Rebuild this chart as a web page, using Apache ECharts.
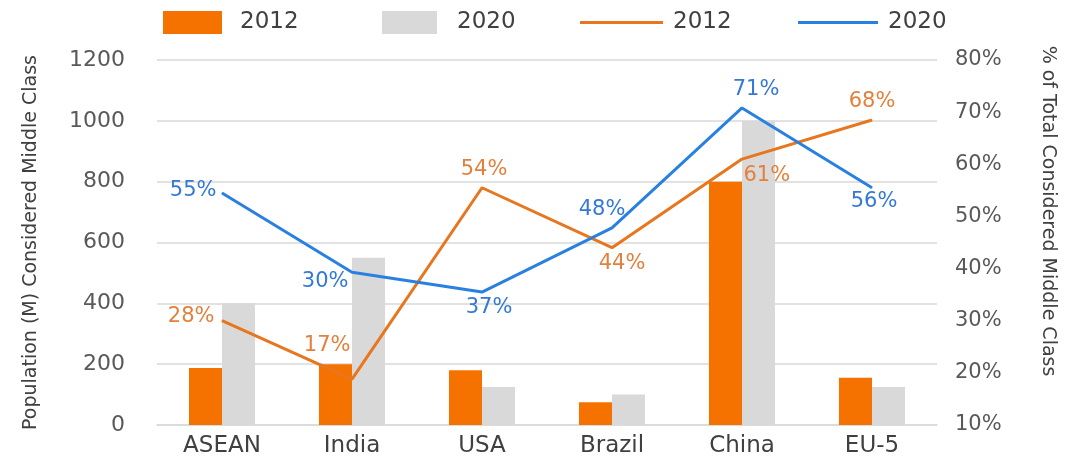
<!DOCTYPE html>
<html>
<head>
<meta charset="utf-8">
<script src="https://cdn.jsdelivr.net/npm/echarts@6/dist/echarts.min.js"></script>
<style>
  html, body { margin: 0; padding: 0; background: #fff; }
  #main { width: 1084px; height: 460px; }
</style>
</head>
<body>
<div id="main"></div>
<script>
// data
const regions = ['ASEAN', 'India', 'USA', 'Brazil', 'China', 'EU-5']
const pop2012 = [187, 200, 180, 75, 800, 155]
const pop2020 = [400, 550, 125, 100, 1000, 125]
// line points (where the lines sit) and the label text printed next to them
const share2012 = [30, 18.8, 55.5, 44, 61, 68.5]
const share2020 = [54.5, 39.3, 35.5, 47.8, 70.8, 55.5]
const share2012Text = ['28%', '17%', '54%', '44%', '61%', '68%']
const share2020Text = ['55%', '30%', '37%', '48%', '71%', '56%']
const leftTicks = ['0', '200', '400', '600', '800', '1000', '1200']
const rightTicks = ['10%', '20%', '30%', '40%', '50%', '60%', '70%', '80%']

// label placement (style only)
const place2012 = [
  { position: 'left', offset: [-2, -4] },
  { position: 'left', offset: [4, -34] },
  { position: 'top', offset: [2, -2] },
  { position: 'bottom', offset: [10, 0] },
  { position: 'right', offset: [-4, 16] },
  { position: 'top', offset: [0, -2] }
]
const place2020 = [
  { position: 'left', offset: [0, -2] },
  { position: 'left', offset: [2, 9] },
  { position: 'bottom', offset: [7, 0] },
  { position: 'top', offset: [-10, -2] },
  { position: 'top', offset: [14, -2] },
  { position: 'bottom', offset: [2, -2] }
]

const FONT = 'DejaVu Sans'
const ORANGE_BAR = '#F57200'
const GREY_BAR = '#D9D9D9'
const ORANGE_LINE = '#E8761E'
const BLUE_LINE = '#2A80E0'

function lineData(values, places) {
  return values.map((v, i) => ({ value: v, label: places[i] }))
}

const legendNames = { bar2012: '2012', bar2020: '2020', line2012: '2012', line2020: '2020' }
const lineIcon = 'path://M0,0 L80,0 L80,3 L0,3 Z'

function legendItem(name, left, icon, w, h, gap) {
  return {
    data: [{ name: name, icon: icon }],
    left: left,
    top: 11,
    itemWidth: w,
    itemHeight: h,
    itemGap: 0,
    padding: 0,
    formatter: n => legendNames[n],
    textStyle: { fontFamily: FONT, fontSize: 23, color: '#404040', padding: [0, 0, 0, gap] }
  }
}

let myChart = echarts.init(document.getElementById('main'))
myChart.setOption({
  animation: false,
  legend: [
    legendItem('bar2012', 163, 'rect', 59, 23, 13),
    legendItem('bar2020', 382, 'rect', 55, 23, 15),
    legendItem('line2012', 580, lineIcon, 83, 23, 5),
    legendItem('line2020', 798, lineIcon, 80, 23, 5)
  ],
  grid: { left: 157, right: 147, top: 60, bottom: 35, containLabel: false },
  xAxis: {
    type: 'category',
    data: regions,
    axisLine: { show: true, lineStyle: { color: '#D9D9D9', width: 1.5 } },
    axisTick: { show: false },
    axisLabel: { fontFamily: FONT, fontSize: 23, color: '#404040', margin: 10 }
  },
  yAxis: [
    {
      type: 'value',
      min: 0,
      max: 1200,
      interval: 200,
      name: 'Population (M) Considered Middle Class',
      nameLocation: 'middle',
      nameGap: 116,
      nameTextStyle: { fontFamily: FONT, fontSize: 19, color: '#404040' },
      axisLine: { show: false },
      axisTick: { show: false },
      splitLine: { lineStyle: { color: '#D9D9D9', width: 1.5 } },
      axisLabel: {
        fontFamily: FONT, fontSize: 22, color: '#595959', margin: 32,
        formatter: v => leftTicks[v / 200]
      }
    },
    {
      type: 'value',
      min: 10,
      max: 80,
      interval: 10,
      position: 'right',
      axisLine: { show: false },
      axisTick: { show: false },
      splitLine: { show: false },
      axisLabel: {
        fontFamily: FONT, fontSize: 21, color: '#595959', margin: 18,
        formatter: v => rightTicks[(v - 10) / 10]
      }
    }
  ],
  graphic: [
    {
      type: 'text',
      x: 1048,
      y: 211,
      rotation: -Math.PI / 2,
      style: {
        text: '% of Total Considered Middle Class',
        fontFamily: FONT, fontSize: 19, fill: '#404040',
        align: 'center', verticalAlign: 'middle'
      }
    }
  ],
  series: [
    {
      name: 'bar2012',
      type: 'bar',
      data: pop2012,
      barWidth: '25.4%',
      barGap: '0%',
      itemStyle: { color: ORANGE_BAR }
    },
    {
      name: 'bar2020',
      type: 'bar',
      data: pop2020,
      barWidth: '25.4%',
      itemStyle: { color: GREY_BAR }
    },
    {
      name: 'line2012',
      type: 'line',
      yAxisIndex: 1,
      data: lineData(share2012, place2012),
      symbol: 'circle',
      symbolSize: 1,
      lineStyle: { color: ORANGE_LINE, width: 3 },
      itemStyle: { color: ORANGE_LINE },
      label: {
        show: true,
        fontFamily: FONT, fontSize: 21, color: '#E3803C',
        formatter: p => share2012Text[p.dataIndex]
      }
    },
    {
      name: 'line2020',
      type: 'line',
      yAxisIndex: 1,
      data: lineData(share2020, place2020),
      symbol: 'circle',
      symbolSize: 1,
      lineStyle: { color: BLUE_LINE, width: 3 },
      itemStyle: { color: BLUE_LINE },
      label: {
        show: true,
        fontFamily: FONT, fontSize: 21, color: '#3479D6',
        formatter: p => share2020Text[p.dataIndex]
      }
    }
  ]
})
</script>
</body>
</html>
